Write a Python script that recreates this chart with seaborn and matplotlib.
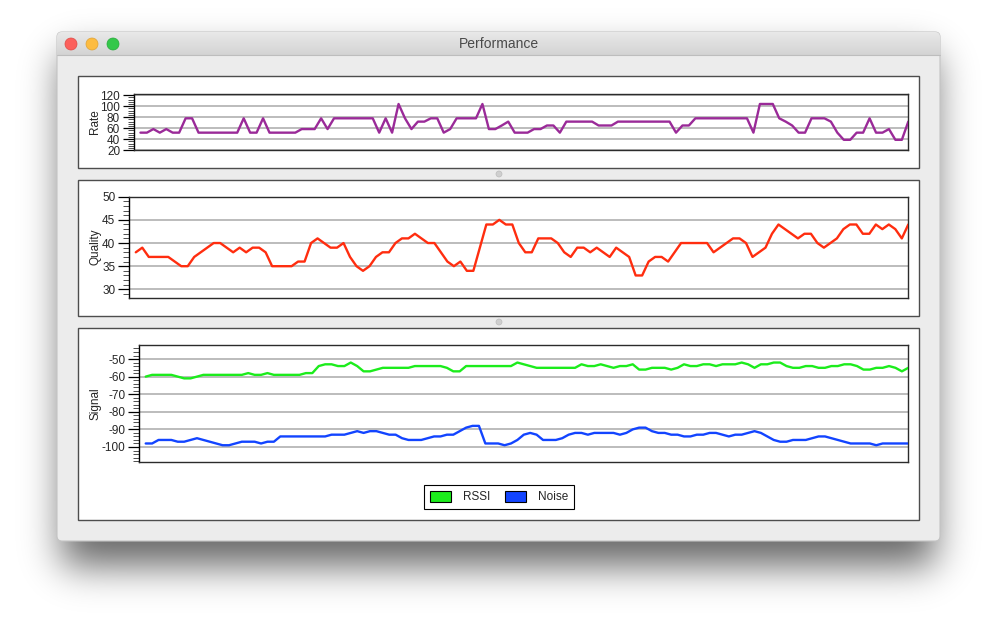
import math

import matplotlib
matplotlib.use("Agg")
import matplotlib.pyplot as plt
import numpy as np
import pandas as pd
import seaborn as sns
from matplotlib.colors import LinearSegmentedColormap
from matplotlib.patches import Circle, FancyBboxPatch, Patch, Rectangle
from matplotlib.ticker import MultipleLocator

# values, one per sample
rate = [52, 52, 58.5, 52, 58.5, 52, 52, 78, 78, 52,
        52, 52, 52, 52, 52, 52, 78, 52, 52, 78,
        52, 52, 52, 52, 52, 58.5, 58.5, 58.5, 78, 58.5,
        78, 78, 78, 78, 78, 78, 78, 52, 78, 52,
        104, 78, 58.5, 72, 72, 78, 78, 52, 58.5, 78,
        78, 78, 78, 104, 58.5, 58.5, 65, 72, 52, 52,
        52, 58.5, 58.5, 65, 65, 52, 72, 72, 72, 72,
        72, 65, 65, 65, 72, 72, 72, 72, 72, 72,
        72, 72, 72, 52, 65, 65, 78, 78, 78, 78,
        78, 78, 78, 78, 78, 52, 104, 104, 104, 78,
        72, 65, 52, 52, 78, 78, 78, 72, 52, 39,
        39, 52, 52, 78, 52, 52, 58.5, 39, 39, 72]

quality = [38, 39, 37, 37, 37, 37, 36, 35, 35, 37,
           38, 39, 40, 40, 39, 38, 39, 38, 39, 39,
           38, 35, 35, 35, 35, 36, 36, 40, 41, 40,
           39, 39, 40, 37, 35, 34, 35, 37, 38, 38,
           40, 41, 41, 42, 41, 40, 40, 38, 36, 35,
           36, 34, 34, 39, 44, 44, 45, 44, 44, 40,
           38, 38, 41, 41, 41, 40, 38, 37, 39, 39,
           38, 39, 38, 37, 39, 38, 37, 33, 33, 36,
           37, 37, 36, 38, 40, 40, 40, 40, 40, 38,
           39, 40, 41, 41, 40, 37, 38, 39, 42, 44,
           43, 42, 41, 42, 42, 40, 39, 40, 41, 43,
           44, 44, 42, 42, 44, 43, 44, 43, 41, 44]

rssi = [-60, -59, -59, -59, -59, -60, -61, -61, -60, -59,
        -59, -59, -59, -59, -59, -59, -58, -59, -59, -58,
        -59, -59, -59, -59, -59, -58, -58, -54, -53, -53,
        -54, -54, -52, -54, -57, -57, -56, -55, -55, -55,
        -55, -55, -54, -54, -54, -54, -54, -55, -57, -57,
        -54, -54, -54, -54, -54, -54, -54, -54, -52, -53,
        -54, -55, -55, -55, -55, -55, -55, -55, -53, -54,
        -54, -53, -54, -55, -54, -54, -53, -56, -56, -55,
        -55, -55, -56, -55, -53, -54, -54, -53, -53, -54,
        -53, -53, -53, -52, -53, -55, -53, -53, -52, -52,
        -54, -55, -55, -54, -54, -55, -55, -54, -54, -53,
        -53, -54, -56, -56, -55, -55, -54, -55, -57, -55]

noise = [-98, -98, -96, -96, -96, -97, -97, -96, -95, -96,
         -97, -98, -99, -99, -98, -97, -97, -97, -98, -97,
         -97, -94, -94, -94, -94, -94, -94, -94, -94, -93,
         -93, -93, -92, -91, -92, -91, -91, -92, -93, -93,
         -95, -96, -96, -96, -95, -94, -94, -93, -93, -91,
         -89, -88, -88, -98, -98, -98, -99, -98, -96, -93,
         -92, -93, -96, -96, -96, -95, -93, -92, -92, -93,
         -92, -92, -92, -92, -93, -92, -90, -89, -89, -91,
         -92, -92, -93, -93, -94, -94, -93, -93, -92, -92,
         -93, -94, -93, -93, -92, -91, -92, -94, -96, -97,
         -97, -96, -96, -96, -95, -94, -94, -95, -96, -97,
         -98, -98, -98, -98, -99, -98, -98, -98, -98, -98]

samples = list(range(len(rate)))
signal_names = ["RSSI", "Noise"]
signal_colors = {"RSSI": "#1cec1c", "Noise": "#1244ff"}

W, H = 998, 623

sns.set_style("white")
plt.rcParams["font.family"] = ["Liberation Sans", "DejaVu Sans"]
plt.rcParams["axes.unicode_minus"] = False


def px_box(x0, y0, x1, y1):
    return [x0 / W, 1 - y1 / H, (x1 - x0) / W, (y1 - y0) / H]


def edge_profile(coords, lo, hi, sigma):
    s = sigma * math.sqrt(2)
    return np.array([0.5 * (math.erf((c - lo) / s) - math.erf((c - hi) / s)) for c in coords])


fig = plt.figure(figsize=(W / 100, H / 100), dpi=100)
fig.patch.set_facecolor("white")

# window chrome drawn in pixel coordinates
bg = fig.add_axes([0, 0, 1, 1])
bg.set_xlim(0, W)
bg.set_ylim(H, 0)
bg.axis("off")

fx = edge_profile(np.arange(W) + 0.5, 62, 935, 19)
fy = edge_profile(np.arange(H) + 0.5, 55, 566, 19)
shadow = np.zeros((H, W, 4))
shadow[..., 3] = 0.6 * np.outer(fy, fx)
bg.imshow(shadow, extent=(0, W, H, 0), interpolation="bilinear", zorder=0)

window = FancyBboxPatch((57, 32), 883, 509, boxstyle="round,pad=0,rounding_size=5",
                        fc="#ececec", ec="#c4c4c4", lw=0.8, zorder=1)
bg.add_patch(window)
title_cmap = LinearSegmentedColormap.from_list("titlebar", ["#e9e9e9", "#d3d3d3"])
grad = bg.imshow(np.linspace(0, 1, 40)[:, None], cmap=title_cmap, aspect="auto",
                 extent=(57, 940, 55, 32), zorder=2)
grad.set_clip_path(window)
bg.plot([57, 940], [55, 55], color="#bdbdbd", lw=0.8, zorder=3)
bg.text(499, 44, "Performance", ha="center", va="center", fontsize=10, color="#4a4a4a", zorder=4)
for cx, col, edge in [(71, "#fc605c", "#de4a45"), (92, "#fdbc40", "#dea236"), (113, "#34c84a", "#27a93a")]:
    bg.add_patch(Circle((cx, 44), 6, fc=col, ec=edge, lw=0.5, zorder=4))

for y0, y1 in [(76, 168), (180, 316), (328, 520)]:
    bg.add_patch(Rectangle((78, y0), 841, y1 - y0, fc="white", ec="#4d4d4d", lw=1.0, zorder=3))
for cy in [174, 322]:
    bg.add_patch(Circle((499, cy), 3, fc="#cfcfcf", ec="#bdbdbd", lw=0.5, zorder=3))

ax_rate = fig.add_axes(px_box(134, 93.5, 908.3, 150.3))
ax_quality = fig.add_axes(px_box(129.3, 196.7, 908.3, 297.7))
ax_signal = fig.add_axes(px_box(139.3, 345.3, 908.3, 462.3))

sns.lineplot(x=samples, y=rate, ax=ax_rate, color="#9a2a98", linewidth=1.7, zorder=3)
sns.lineplot(x=samples, y=quality, ax=ax_quality, color="#ff2d0f", linewidth=1.7, zorder=3)

signal_df = pd.DataFrame({"sample": samples * 2, "value": rssi + noise,
                          "series": ["RSSI"] * len(rssi) + ["Noise"] * len(noise)})
sns.lineplot(data=signal_df, x="sample", y="value", hue="series", hue_order=signal_names,
             palette=signal_colors, ax=ax_signal, linewidth=1.7, legend=False, zorder=3)

panel_setup = [
    (ax_rate, "Rate", (20, 123), [20, 40, 60, 80, 100, 120], 4, -0.0426),
    (ax_quality, "Quality", (28.2, 50), [30, 35, 40, 45, 50], 1, -0.0363),
    (ax_signal, "Signal", (-108.7, -42.2), [-100, -90, -80, -70, -60, -50], 2, -0.0498),
]
for ax, label, ylim, ticks, minor, label_x in panel_setup:
    ax.set_xlim(-1, 119)
    ax.set_ylim(*ylim)
    ax.set_xticks([])
    ax.set_xlabel("")
    ax.set_yticks(ticks)
    ax.yaxis.set_minor_locator(MultipleLocator(minor))
    ax.tick_params(axis="y", which="both", left=True, color="black")
    ax.tick_params(axis="y", which="major", length=8, width=0.9, labelsize=8.5, pad=2)
    ax.tick_params(axis="y", which="minor", length=4, width=0.6, color="#333333")
    ax.grid(axis="y", which="major", color="#a9a9a9", linewidth=1.1)
    ax.set_axisbelow(True)
    ax.set_ylabel(label, fontsize=8.5)
    ax.yaxis.set_label_coords(label_x, 0.5)
    for side, spine in ax.spines.items():
        spine.set_visible(True)
        spine.set_linewidth(1.0)
        spine.set_color("black" if side == "left" else "#2b2b2b")

handles = [Patch(facecolor=signal_colors[name], edgecolor="black", linewidth=0.8, label=name)
           for name in signal_names]
leg = ax_signal.legend(handles=handles, loc="center", bbox_to_anchor=(499 / W, 1 - 497 / H),
                       bbox_transform=fig.transFigure, ncol=2, fontsize=8.5, frameon=True,
                       fancybox=False, framealpha=1, edgecolor="black", handlelength=1.8,
                       handleheight=1.05, handletextpad=1.0, columnspacing=1.3, borderpad=0.45)
leg.get_frame().set_linewidth(0.8)

fig.savefig("out.png", dpi=100)
